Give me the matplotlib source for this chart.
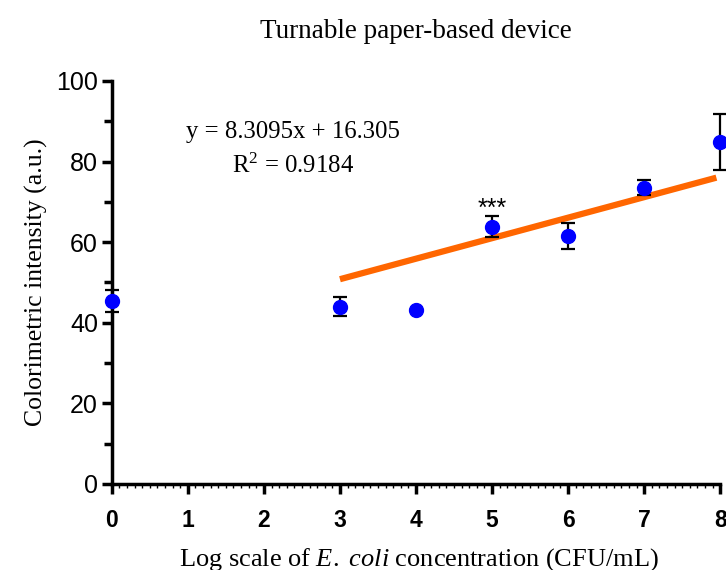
import matplotlib
matplotlib.use("Agg")
import matplotlib.pyplot as plt
from matplotlib.ticker import MultipleLocator

plt.rcParams["mathtext.fontset"] = "custom"
plt.rcParams["mathtext.it"] = "Liberation Serif:italic"
plt.rcParams["mathtext.rm"] = "Liberation Serif"
plt.rcParams["mathtext.bf"] = "Liberation Serif:bold"

# Data
log_conc = [0, 3, 4, 5, 6, 7, 8]
intensity = [45.4, 44.0, 43.2, 63.8, 61.5, 73.5, 84.9]
errors = [2.8, 2.3, 0.0, 2.6, 3.2, 1.8, 6.9]
fit_x = [3.0, 7.95]
fit_y = [50.8, 76.0]
star_x = 5
star_y = 66.6

title = "Turnable paper-based device"
eq_text = "y = 8.3095x + 16.305"
r2_text = "R$^2$ = 0.9184"

fig = plt.figure(figsize=(7.26, 5.70), dpi=100)
ax = fig.add_axes([0.154, 0.151, 0.838, 0.707])

serif = "Liberation Serif"
sans = "Liberation Sans"

ax.plot(fit_x, fit_y, color="#FF6600", lw=4.5, solid_capstyle="butt", zorder=2)
ax.errorbar(log_conc, intensity, yerr=errors, fmt="none", ecolor="black",
            elinewidth=1.6, capsize=5, capthick=1.6, zorder=3, clip_on=False)
ax.plot(log_conc, intensity, "o", color="#0000FF", ms=10, zorder=4, clip_on=False)

ax.text(star_x, star_y, "***", ha="center", va="baseline", fontsize=18,
        family=sans, color="black")

ax.text(0.298, 0.873, eq_text, transform=ax.transAxes, ha="center", va="center",
        fontsize=17.8, family=serif)
ax.text(0.298, 0.79, r2_text, transform=ax.transAxes, ha="center", va="center",
        fontsize=17.8, family=serif)

ax.set_xlim(0, 8)
ax.set_ylim(0, 100)
for s in ["top", "right"]:
    ax.spines[s].set_visible(False)
for s in ["left", "bottom"]:
    ax.spines[s].set_linewidth(2.5)

ax.xaxis.set_major_locator(MultipleLocator(1))
ax.xaxis.set_minor_locator(MultipleLocator(0.1))
ax.yaxis.set_major_locator(MultipleLocator(20))
ax.yaxis.set_minor_locator(MultipleLocator(10))

ax.tick_params(axis="y", which="major", direction="out", length=7, width=2.5)
ax.tick_params(axis="y", which="minor", direction="out", length=6, width=2.5)
ax.tick_params(axis="x", which="major", direction="out", length=7, width=2.5)
ax.tick_params(axis="x", which="minor", direction="out", length=3, width=1.0)

for lab in ax.get_yticklabels():
    lab.set_family(sans)
    lab.set_fontsize(18)
for lab in ax.get_xticklabels():
    lab.set_family(sans)
    lab.set_fontsize(16.5)
    lab.set_fontweight("bold")
ax.tick_params(axis="y", pad=3)
ax.tick_params(axis="x", pad=11)

ax.set_ylabel("Colorimetric intensity (a.u.)", fontsize=18.5, family=serif, labelpad=6)
ax.set_xlabel("Log scale of $\\it{E.\\ coli}$ concentration (CFU/mL)",
              fontsize=19, family=serif, va="baseline")
ax.xaxis.set_label_coords(0.505, -0.2035)

ax.set_title(title, fontsize=19.5, family=serif, pad=31)

fig.savefig("out.png", dpi=100)
